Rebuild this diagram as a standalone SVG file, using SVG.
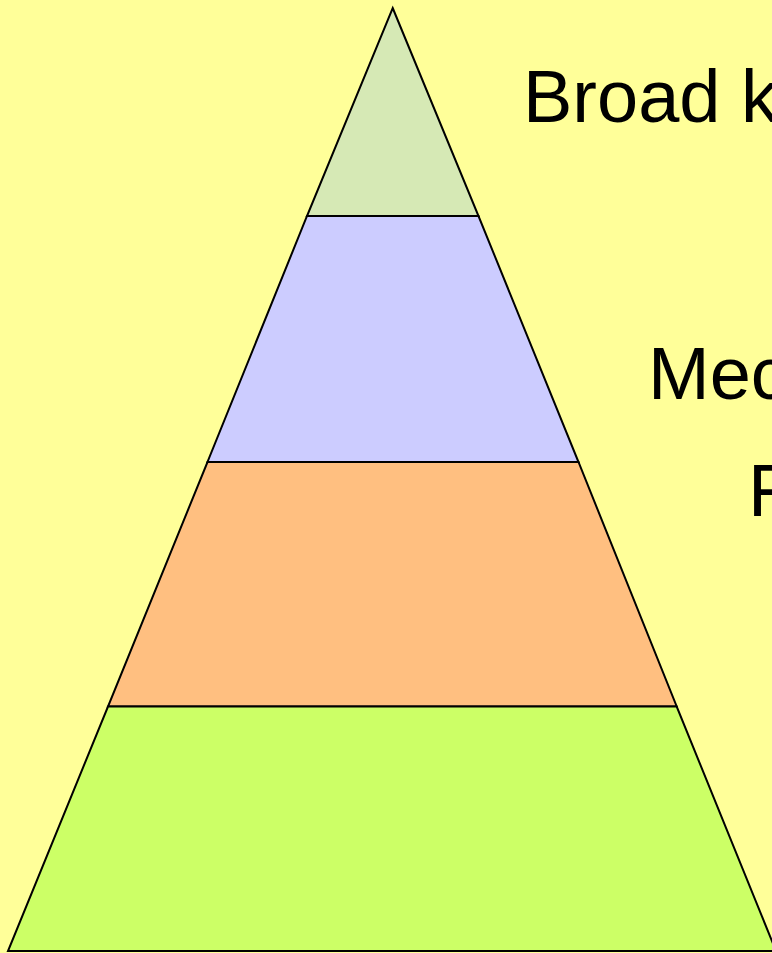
<svg xmlns="http://www.w3.org/2000/svg" width="772" height="953" viewBox="0 0 772 953">
<style>
.band{stroke:#000;stroke-width:2;stroke-linejoin:miter}
.lbl{font-family:"Liberation Sans",Arial,sans-serif;font-size:74px;fill:#000}
</style>
<rect x="0" y="0" width="772" height="953" fill="#FFFF99"/>
<g id="level1"><polygon class="band" fill="#D6E9B5" points="392.7,8 478.5,216 307,216"/></g>
<g id="level2"><polygon class="band" fill="#CCCCFF" points="307,216 478.5,216 578.5,462 207.5,462"/></g>
<g id="level3"><polygon class="band" fill="#FFBF80" points="207.5,462 578.5,462 676.7,706.5 108,706.5"/></g>
<g id="level4"><polygon class="band" fill="#CCFF66" points="108,706.5 676.7,706.5 776,951 8,951"/></g>
<g id="labels">
<text class="lbl" x="523" y="122">Broad k</text>
<text class="lbl" x="648" y="399">Mec</text>
<text class="lbl" x="748" y="516">F</text>
</g>
</svg>
